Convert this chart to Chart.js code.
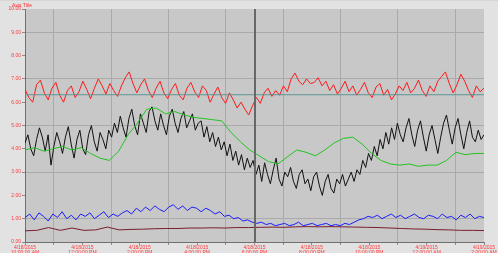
<!DOCTYPE html>
<html>
<head>
<meta charset="utf-8">
<script src="https://cdn.jsdelivr.net/npm/chart.js@4"></script>
<style>
  body { margin: 0; background: #e2e2e2; }
  canvas { display: block; }
</style>
</head>
<body>
<canvas id="trend" width="498" height="253"></canvas>
<script>
// x axis runs 0..16 (one unit = one minor tick), labels on every other tick
const tickLabels = [
  ['4/18/2015', '10:00:00 AM'], ['4/18/2015', '12:00:00 PM'], ['4/18/2015', '2:00:00 PM'],
  ['4/18/2015', '4:00:00 PM'], ['4/18/2015', '6:00:00 PM'], ['4/18/2015', '8:00:00 PM'],
  ['4/18/2015', '10:00:00 PM'], ['4/19/2015', '12:00:00 AM'], ['4/19/2015', '2:00:00 AM']
];
const xMax = 16;
const cursorAt = 8;
const refLevel = 6.32;

const redVals = [
  6.55, 6.2, 6.0, 6.75, 6.95, 6.4, 6.1, 6.6, 6.85, 6.3, 6.0, 6.5, 6.7, 6.2, 6.45, 6.9, 6.55, 6.15, 6.6, 7.0, 6.7, 6.35, 6.8, 6.5, 6.25,
  6.7, 7.05, 7.3, 6.8, 6.4, 6.75, 7.0, 6.5, 6.2, 6.6, 6.9, 6.4, 6.15, 6.55, 6.8, 6.3,
  6.1, 6.6, 6.85, 6.45, 6.2, 6.7, 6.5, 6.0, 6.35, 6.65, 6.2, 5.95, 6.4, 6.1, 5.75,
  6.0, 5.7, 5.45, 5.85, 6.2, 5.95, 6.4, 6.6, 6.25,
  6.5, 6.3, 6.7, 6.45, 7.0, 7.25, 6.9, 6.75, 7.0, 6.8, 6.85,
  7.05, 6.7, 6.9, 6.5, 6.75, 6.35, 6.6, 6.9, 6.45, 6.7, 6.3, 6.55, 6.85, 6.4, 6.2, 6.65, 6.8, 6.3, 6.55, 6.1,
  6.35, 6.7, 6.5, 6.85, 6.4, 6.6, 6.95, 6.5, 6.25, 6.7, 6.45, 6.9, 7.1, 7.3, 6.8, 6.4, 6.75, 7.2, 6.9, 6.5, 6.2, 6.7, 6.45, 6.6
];

const blackVals = [
  4.25, 4.6, 4.0, 3.7, 4.4, 4.9, 4.5, 3.9, 4.6, 3.3, 4.1, 4.7, 4.3, 3.8, 4.5, 4.95, 4.2, 3.6, 4.4, 4.8, 4.0, 3.75, 4.6, 5.0, 4.3, 3.9, 4.7, 4.4, 4.0, 4.8,
  4.5, 5.1, 4.7, 5.4, 4.9, 4.5, 5.3, 5.7, 5.0, 4.6, 5.5, 5.1, 4.7, 5.6, 5.8, 5.2, 4.8, 5.5, 5.0, 4.6, 5.4, 5.7, 5.1, 4.7, 5.3, 5.6, 4.9, 5.2, 5.5, 4.8, 5.1,
  5.2, 4.5, 4.95, 4.3, 4.7, 4.1, 4.5, 3.95, 4.3, 3.7, 4.2, 3.5, 3.9, 3.3, 3.75, 3.1, 3.6, 3.2,
  3.5, 2.9, 3.3, 2.6, 3.4, 2.9, 2.5, 3.1, 3.6, 2.7, 2.4, 3.0, 2.8, 3.2, 2.6, 2.3, 2.9, 3.1, 2.5, 2.7, 2.2, 2.8, 3.0, 2.4, 2.0, 2.6, 2.9, 2.3, 2.1, 2.7, 2.5, 2.9, 2.4, 2.7, 3.0,
  2.6, 3.1, 2.9, 3.5, 3.2, 3.8, 3.5, 4.1, 3.7, 4.4, 4.0, 4.7, 4.2, 4.9, 4.4, 5.1, 4.6,
  4.3, 4.9, 5.3, 4.6, 4.1, 4.8, 5.2, 4.5, 3.9, 4.6, 5.0, 4.4, 3.8, 4.5, 5.1, 5.45, 4.8, 4.2, 4.9, 5.3, 4.6, 4.0, 4.7, 5.2, 4.5, 4.3, 4.8, 4.4, 4.6
];

const greenVals = [
  3.95, 4.05, 3.9, 4.0, 4.1, 3.95, 4.05, 3.8, 3.6, 3.5,
  3.9, 4.6, 5.1, 5.7, 5.75, 5.5, 5.6, 5.45, 5.35, 5.3,
  5.25, 5.2, 4.7, 4.3, 3.95, 3.7, 3.45, 3.35, 3.65, 3.95,
  3.85, 3.7, 3.95, 4.25, 4.45, 4.5, 4.2, 3.8, 3.5, 3.35,
  3.3, 3.35, 3.25, 3.3, 3.3, 3.5, 3.85, 3.75, 3.8, 3.8
];

const blueVals = [
  1.05, 1.2, 0.95, 1.25, 1.1, 0.9, 1.2, 1.05, 1.3, 1.0, 1.15, 0.95, 1.2, 1.1, 1.25, 1.0, 1.15, 1.3, 1.05, 1.2, 1.1,
  1.25, 1.35, 1.2, 1.45, 1.3, 1.5, 1.35, 1.55, 1.4, 1.3, 1.5, 1.6, 1.4, 1.55, 1.35, 1.5, 1.45, 1.3, 1.45, 1.35,
  1.2, 1.3, 1.1, 1.15, 1.0, 1.05, 0.9, 0.95, 0.85, 0.8, 0.85,
  0.75, 0.8, 0.7, 0.75, 0.8, 0.7, 0.75, 0.85, 0.7, 0.75, 0.8, 0.7, 0.75, 0.8, 0.7, 0.75, 0.7, 0.8, 0.75,
  0.85, 0.95, 1.0, 1.1, 1.05, 1.15, 1.0, 1.1, 1.2, 1.05, 1.15, 1.0, 1.1, 1.2, 1.05, 1.0, 1.15, 1.1, 1.0, 1.2, 1.05, 1.1, 0.95, 1.15, 1.05, 1.2, 1.0, 1.1, 1.05
];

const maroonVals = [
  0.48, 0.5, 0.62, 0.5, 0.6, 0.5, 0.52, 0.64, 0.52, 0.54, 0.55, 0.57, 0.58, 0.58, 0.6, 0.6, 0.61, 0.6, 0.62, 0.62,
  0.63, 0.64, 0.63, 0.65, 0.66, 0.65, 0.66, 0.65, 0.64, 0.63, 0.62, 0.6, 0.58, 0.56, 0.55, 0.53, 0.52, 0.5, 0.5, 0.49
];

// spread each series evenly over the time axis
function toPoints(vals) {
  return vals.map((v, i) => ({ x: i * xMax / (vals.length - 1), y: v }));
}

function line(label, vals, color) {
  return {
    label: label,
    data: toPoints(vals),
    borderColor: color,
    backgroundColor: color,
    borderWidth: 1,
    pointRadius: 0,
    tension: 0
  };
}

const axisFont = { family: 'Liberation Sans', size: 5, lineHeight: 1 };

const frame = {
  id: 'frame',
  beforeDraw(chart) {
    const c = chart.ctx;
    const a = chart.chartArea;
    c.save();
    c.fillStyle = '#e2e2e2';
    c.fillRect(0, 0, chart.width, chart.height);
    c.fillStyle = '#d6d6d6';
    c.fillRect(0, 0, chart.width, 1);
    c.fillStyle = '#c8c8c8';
    c.fillRect(a.left, a.top, a.right - a.left, a.bottom - a.top);
    c.restore();
  },
  afterDatasetsDraw(chart) {
    const c = chart.ctx;
    const a = chart.chartArea;
    const px = Math.round(chart.scales.x.getPixelForValue(cursorAt));
    c.save();
    c.fillStyle = '#676767';
    c.fillRect(px - 1, a.top, 2, a.bottom - a.top);
    c.restore();
  },
  afterDraw(chart) {
    const c = chart.ctx;
    c.save();
    c.fillStyle = '#ff3030';
    c.font = '5px "Liberation Sans"';
    c.textBaseline = 'top';
    c.fillText('Axis Title', 12, 3);
    c.restore();
  }
};

new Chart(document.getElementById('trend'), {
  type: 'line',
  data: {
    datasets: [
      {
        label: 'Reference',
        data: [{ x: 0, y: refLevel }, { x: xMax, y: refLevel }],
        borderColor: '#5f9494',
        borderWidth: 1,
        pointRadius: 0
      },
      line('Series 1', redVals, '#ff1a1a'),
      line('Series 2', greenVals, '#22c422'),
      line('Series 3', blackVals, '#111111'),
      line('Series 4', blueVals, '#1c1cff'),
      line('Series 5', maroonVals, '#7a1e2e')
    ]
  },
  options: {
    responsive: false,
    animation: false,
    devicePixelRatio: 1,
    layout: { padding: { top: 9, right: 14, left: 0, bottom: 0 } },
    plugins: {
      legend: { display: false },
      tooltip: { enabled: false }
    },
    scales: {
      x: {
        type: 'linear',
        min: 0,
        max: xMax,
        afterFit: (s) => { s.height = 11; },
        border: { color: '#707070', width: 1 },
        grid: {
          color: (ctx) => (ctx.tick && ctx.tick.value % 2 === 1 ? '#aaaaaa' : 'rgba(0,0,0,0)'),
          tickColor: '#8a8a8a',
          tickLength: 3
        },
        ticks: {
          stepSize: 1,
          autoSkip: false,
          maxRotation: 0,
          padding: 0,
          color: '#ff3a3a',
          font: axisFont,
          callback: (v) => (v % 2 === 0 ? tickLabels[v / 2] : '')
        }
      },
      y: {
        min: 0,
        max: 10,
        afterFit: (s) => { s.width = 25; },
        border: { color: '#707070', width: 1 },
        grid: {
          color: (ctx) => (ctx.tick && ctx.tick.value % 2 === 1 ? '#aaaaaa' : 'rgba(0,0,0,0)'),
          tickColor: '#8a8a8a',
          tickLength: 3
        },
        ticks: {
          stepSize: 1,
          padding: 1,
          color: '#ff3a3a',
          font: axisFont,
          callback: (v) => v.toFixed(2)
        }
      }
    }
  },
  plugins: [frame]
});
</script>
</body>
</html>
